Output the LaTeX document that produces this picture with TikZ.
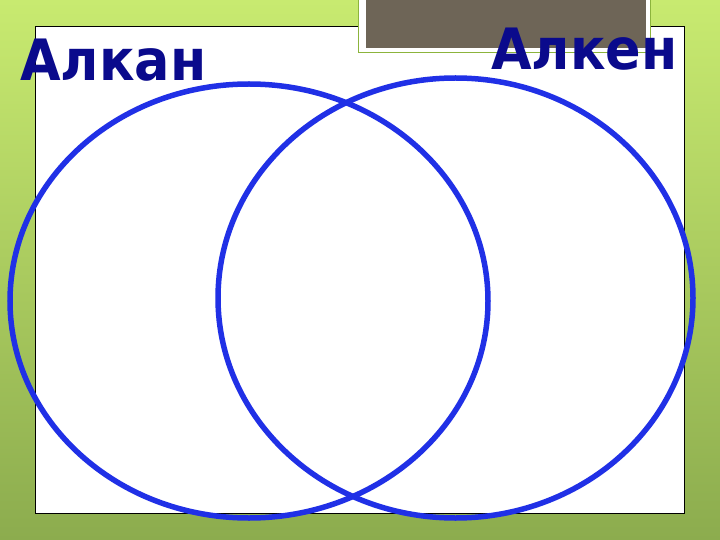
\documentclass[tikz,border=0pt]{standalone}
\usepackage{fontspec}
\setmainfont{DejaVu Sans}
\usepackage{xcolor}
\usepackage{tikz}
\usetikzlibrary{shapes.geometric}
\definecolor{setblue}{RGB}{32,48,230}
\definecolor{labelblue}{RGB}{10,10,140}
\definecolor{boxbrown}{RGB}{110,101,87}
\definecolor{boxgreen}{RGB}{140,180,60}
\tikzstyle{setring} = [ellipse, draw=setblue, line width=5.5pt, inner sep=0pt, outer sep=0pt]
\tikzstyle{setname} = [text=labelblue, font=\fontsize{57}{62}\selectfont\bfseries, inner sep=0pt, anchor=base west, xscale=0.92]

\begin{document}
\begin{tikzpicture}[x=1pt, y=-1pt]
% background
\shade [top color={rgb,255:red,200;green,234;blue,112}, bottom color={rgb,255:red,140;green,172;blue,78}]
	(0,0) rectangle (720,540);
\useasboundingbox (0,0) rectangle (720,540);
\node [draw=black, line width=0.8pt, fill=white, minimum width=649pt, minimum height=487pt, inner sep=0pt, anchor=north west]
	at (35,26) (sheet) {};
% title box at the top
\node [draw=boxgreen, line width=1pt, fill=white, minimum width=292pt, minimum height=60pt, inner sep=0pt, anchor=south west]
	at (358,53.5) (titleframe) {};
\node [fill=boxbrown, minimum width=280pt, minimum height=60pt, inner sep=0pt, anchor=south west]
	at (366,48) (titlebox) {};
% the two sets
\node [setring, minimum width=478pt, minimum height=434pt] at (249,301) (alkan_set) {};
\node [setring, minimum width=475pt, minimum height=440pt] at (455.5,298) (alken_set) {};
% names
\node [setname] at (20,81) (alkan) {Алкан};
\node [setname] at (491,70) (alken) {Алкен};
\end{tikzpicture}
\end{document}
